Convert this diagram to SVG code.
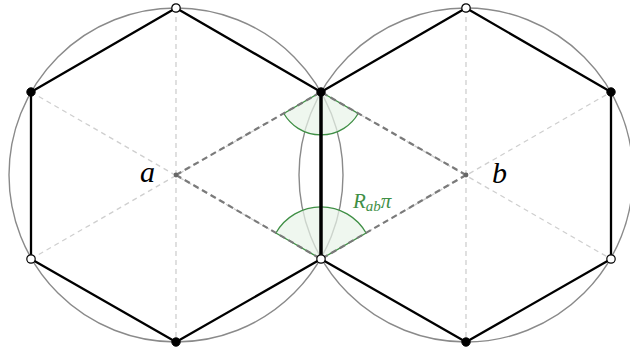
<svg xmlns="http://www.w3.org/2000/svg" width="630" height="349" viewBox="0 0 630 349">
<style>
.circ{fill:none;stroke:#8a8a8a;stroke-width:1.4}
.diam{stroke:#cfcfcf;stroke-width:1.3;stroke-dasharray:5 4;fill:none}
.edge{stroke:#000;stroke-width:2.3;fill:none;stroke-linejoin:round}
.conn{stroke:#7a7a7a;stroke-width:2.2;stroke-dasharray:6 4;fill:none}
.wedge{fill:#e8f3e8;fill-opacity:0.7;stroke:#3f8f45;stroke-width:1.3}
.vf{fill:#000;stroke:#000;stroke-width:1}
.vo{fill:#fff;stroke:#000;stroke-width:1.2}
.lbl{font-family:"Liberation Serif",serif;font-style:italic;font-size:30px;fill:#000}
.glbl{font-family:"Liberation Serif",serif;font-style:italic;fill:#3f8f45}
</style>
<rect width="630" height="349" fill="#fff"/>
<g id="circles">
<circle class="circ" cx="176" cy="175" r="167"/>
<circle class="circ" cx="466" cy="175" r="167"/>
</g>
<g id="diameters">
<line class="diam" x1="176" y1="8" x2="176" y2="342"/>
<line class="diam" x1="31" y1="92" x2="321" y2="259"/>
<line class="diam" x1="31" y1="259" x2="321" y2="92"/>
<line class="diam" x1="466" y1="8" x2="466" y2="342"/>
<line class="diam" x1="321" y1="92" x2="611" y2="259"/>
<line class="diam" x1="321" y1="259" x2="611" y2="92"/>
</g>
<g id="wedges">
<path class="wedge" d="M321,92 L358.2,113.5 A43,43 0 0 1 283.8,113.5 Z"/>
<path class="wedge" d="M321,259 L275.9,233 A52,52 0 0 1 366.1,233 Z"/>
</g>
<g id="connectors">
<line class="conn" x1="176" y1="175" x2="321" y2="92"/>
<line class="conn" x1="176" y1="175" x2="321" y2="259"/>
<line class="conn" x1="466" y1="175" x2="321" y2="92"/>
<line class="conn" x1="466" y1="175" x2="321" y2="259"/>
<circle cx="176" cy="175" r="2.4" fill="#666"/>
<circle cx="466" cy="175" r="2.4" fill="#666"/>
</g>
<g id="hexA">
<polygon class="edge" points="176,8 321,92 321,259 176,342 31,259 31,92"/>
</g>
<g id="hexB">
<polygon class="edge" points="466,8 611,92 611,259 466,342 321,259 321,92"/>
<line x1="321" y1="92" x2="321" y2="259" stroke="#000" stroke-width="3.3"/>
</g>
<g id="vertices">
<circle class="vo" cx="176" cy="8" r="4.2"/>
<circle class="vf" cx="321" cy="92" r="4.2"/>
<circle class="vo" cx="321" cy="259" r="4.2"/>
<circle class="vf" cx="176" cy="342" r="4.2"/>
<circle class="vo" cx="31" cy="259" r="4.2"/>
<circle class="vf" cx="31" cy="92" r="4.2"/>
<circle class="vo" cx="466" cy="8" r="4.2"/>
<circle class="vf" cx="611" cy="92" r="4.2"/>
<circle class="vo" cx="611" cy="259" r="4.2"/>
<circle class="vf" cx="466" cy="342" r="4.2"/>
</g>
<g id="labels">
<text class="lbl" x="140" y="182">a</text>
<text class="lbl" x="492" y="183">b</text>
<text class="glbl" x="353" y="208" font-size="21">R<tspan font-size="15" dy="3">ab</tspan><tspan dy="-3" font-size="21">π</tspan></text>
</g>
</svg>
